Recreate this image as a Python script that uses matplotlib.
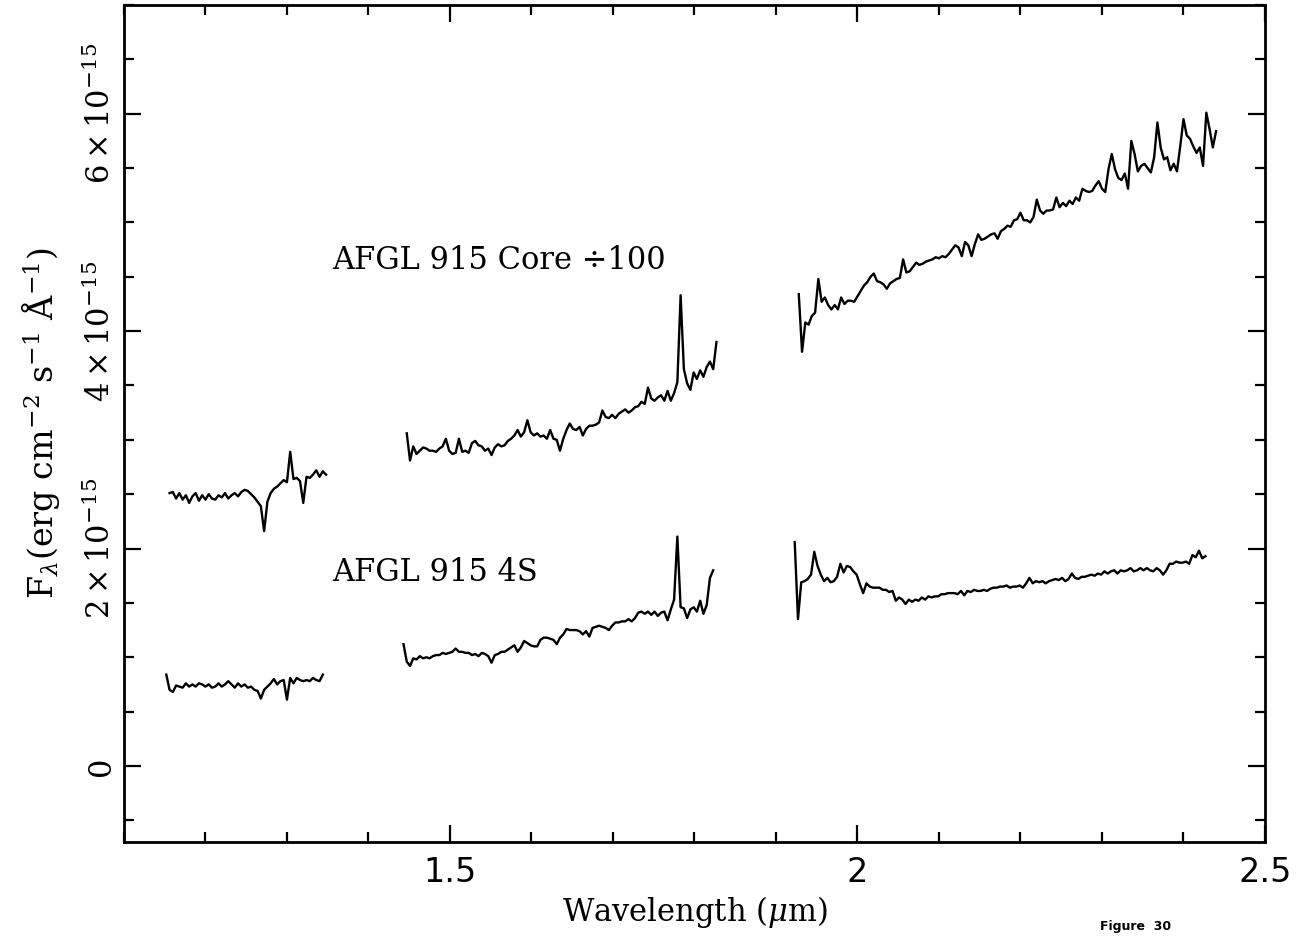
import numpy as np
import matplotlib.pyplot as plt
from matplotlib.ticker import FixedLocator, MultipleLocator, FuncFormatter

plt.rcParams['font.family'] = ['DejaVu Serif']
plt.rcParams['mathtext.fontset'] = 'dejavuserif'

FLUX_UNIT = 1e-15   # flux lists below are in units of 1e-15 erg/cm2/s/A
STEP = 0.004        # wavelength sampling, micron

# AFGL 915 core, already divided by 100 -- three pieces (J, H, K windows)
core_starts = [1.156, 1.447, 1.928]
core_j = [2.51, 2.52, 2.46, 2.51, 2.45, 2.49, 2.42, 2.48, 2.51, 2.44,
          2.49, 2.45, 2.50, 2.46, 2.45, 2.49, 2.47, 2.51, 2.46, 2.49,
          2.51, 2.48, 2.52, 2.54, 2.53, 2.50, 2.47, 2.43, 2.39, 2.16,
          2.43, 2.51, 2.55, 2.57, 2.60, 2.63, 2.61, 2.89, 2.64, 2.65,
          2.62, 2.42, 2.66, 2.65, 2.68, 2.72, 2.66, 2.71, 2.68]
core_h = [3.06, 2.81, 2.94, 2.87, 2.90, 2.93, 2.92, 2.90, 2.90, 2.89,
          2.92, 2.94, 3.01, 2.90, 2.87, 2.88, 3.01, 2.89, 2.90, 2.88,
          2.97, 2.99, 2.95, 2.94, 2.90, 2.92, 2.86, 2.93, 2.96, 2.94,
          2.95, 2.99, 3.01, 3.04, 3.09, 3.03, 3.07, 3.18, 3.07, 3.04,
          3.06, 3.03, 3.04, 3.01, 3.09, 3.01, 3.00, 2.90, 3.01, 3.09,
          3.15, 3.10, 3.09, 3.12, 3.04, 3.10, 3.13, 3.13, 3.14, 3.16,
          3.27, 3.21, 3.20, 3.23, 3.20, 3.24, 3.26, 3.28, 3.25, 3.27,
          3.30, 3.31, 3.35, 3.33, 3.48, 3.38, 3.36, 3.39, 3.41, 3.36,
          3.45, 3.36, 3.43, 3.53, 4.33, 3.65, 3.52, 3.46, 3.62, 3.56,
          3.64, 3.58, 3.67, 3.72, 3.65, 3.90]
core_k = [4.34, 3.81, 4.08, 4.06, 4.14, 4.17, 4.48, 4.27, 4.31, 4.24,
          4.20, 4.24, 4.20, 4.31, 4.25, 4.28, 4.28, 4.27, 4.32, 4.37,
          4.42, 4.45, 4.50, 4.53, 4.46, 4.45, 4.43, 4.39, 4.44, 4.46,
          4.48, 4.49, 4.66, 4.54, 4.55, 4.59, 4.63, 4.61, 4.62, 4.64,
          4.65, 4.66, 4.68, 4.67, 4.69, 4.68, 4.71, 4.75, 4.79, 4.77,
          4.69, 4.82, 4.79, 4.69, 4.80, 4.89, 4.84, 4.85, 4.87, 4.89,
          4.90, 4.85, 4.92, 4.94, 4.97, 4.96, 5.02, 5.03, 5.09, 5.02,
          5.02, 5.00, 5.05, 5.21, 5.11, 5.08, 5.11, 5.11, 5.12, 5.23,
          5.14, 5.18, 5.15, 5.20, 5.17, 5.23, 5.20, 5.31, 5.29, 5.28,
          5.29, 5.34, 5.38, 5.31, 5.28, 5.49, 5.63, 5.49, 5.41, 5.39,
          5.45, 5.31, 5.75, 5.63, 5.47, 5.52, 5.54, 5.50, 5.46, 5.60,
          5.92, 5.69, 5.58, 5.60, 5.48, 5.54, 5.47, 5.70, 5.95, 5.80,
          5.77, 5.70, 5.64, 5.69, 5.52, 6.01, 5.86, 5.69, 5.84]

# AFGL 915 4S
s4_starts = [1.152, 1.443, 1.923]
s4_j = [0.84, 0.70, 0.68, 0.74, 0.73, 0.72, 0.76, 0.73, 0.75, 0.73,
        0.76, 0.75, 0.73, 0.75, 0.72, 0.73, 0.76, 0.73, 0.75, 0.78,
        0.75, 0.72, 0.76, 0.73, 0.75, 0.72, 0.73, 0.70, 0.69, 0.62,
        0.70, 0.73, 0.76, 0.80, 0.75, 0.78, 0.79, 0.61, 0.81, 0.76,
        0.81, 0.79, 0.78, 0.79, 0.78, 0.81, 0.79, 0.78, 0.84]
s4_h = [1.12, 0.96, 0.92, 0.99, 0.98, 1.01, 0.99, 1.00, 0.99, 1.01,
        1.02, 1.02, 1.04, 1.03, 1.04, 1.05, 1.08, 1.05, 1.05, 1.04,
        1.04, 1.02, 1.03, 1.01, 1.04, 1.03, 1.01, 0.95, 1.02, 1.03,
        1.05, 1.05, 1.07, 1.09, 1.11, 1.05, 1.09, 1.15, 1.13, 1.11,
        1.10, 1.10, 1.16, 1.18, 1.18, 1.17, 1.16, 1.12, 1.18, 1.21,
        1.26, 1.25, 1.25, 1.25, 1.24, 1.21, 1.24, 1.19, 1.27, 1.28,
        1.29, 1.28, 1.27, 1.25, 1.29, 1.32, 1.32, 1.33, 1.33, 1.35,
        1.33, 1.36, 1.41, 1.42, 1.40, 1.42, 1.39, 1.42, 1.38, 1.41,
        1.42, 1.34, 1.44, 1.53, 2.11, 1.46, 1.45, 1.36, 1.44, 1.46,
        1.42, 1.52, 1.40, 1.48, 1.73, 1.80]
s4_k = [2.06, 1.35, 1.69, 1.70, 1.72, 1.76, 1.97, 1.84, 1.76, 1.70,
        1.73, 1.69, 1.70, 1.74, 1.86, 1.78, 1.84, 1.83, 1.79, 1.76,
        1.67, 1.59, 1.68, 1.65, 1.64, 1.64, 1.64, 1.62, 1.62, 1.60,
        1.61, 1.52, 1.55, 1.53, 1.49, 1.53, 1.51, 1.53, 1.52, 1.55,
        1.53, 1.56, 1.55, 1.56, 1.56, 1.58, 1.58, 1.59, 1.59, 1.59,
        1.58, 1.61, 1.57, 1.61, 1.60, 1.62, 1.61, 1.61, 1.62, 1.61,
        1.63, 1.64, 1.64, 1.65, 1.65, 1.66, 1.64, 1.65, 1.65, 1.66,
        1.64, 1.68, 1.73, 1.68, 1.70, 1.69, 1.70, 1.68, 1.70, 1.71,
        1.72, 1.71, 1.73, 1.70, 1.72, 1.77, 1.73, 1.72, 1.74, 1.74,
        1.75, 1.76, 1.75, 1.77, 1.76, 1.79, 1.77, 1.79, 1.80, 1.77,
        1.80, 1.79, 1.80, 1.82, 1.79, 1.80, 1.82, 1.80, 1.82, 1.80,
        1.79, 1.82, 1.80, 1.76, 1.80, 1.86, 1.86, 1.88, 1.87, 1.87,
        1.88, 1.86, 1.94, 1.92, 1.98, 1.91, 1.93]

labels = ['AFGL 915 Core \u00f7100', 'AFGL 915 4S']
label_pos = [(1.356, 4.57), (1.356, 1.70)]

x_major = [1.5, 2.0, 2.5]
y_major = [0, 2, 4, 6]


def flux_label(v, pos):
    n = int(round(v / FLUX_UNIT))
    if n == 0:
        return '0'
    return r'$%d\times10^{-15}$' % n


fig = plt.figure(figsize=(13.06, 9.36), dpi=100)
ax = fig.add_axes([0.0949, 0.1004, 0.8737, 0.8942])

for starts, pieces in [(core_starts, [core_j, core_h, core_k]),
                       (s4_starts, [s4_j, s4_h, s4_k])]:
    for start, flux in zip(starts, pieces):
        wl = start + STEP * np.arange(len(flux))
        ax.plot(wl, np.array(flux) * FLUX_UNIT, color='black', lw=1.7)

for text, (x, y) in zip(labels, label_pos):
    ax.text(x, y * FLUX_UNIT, text, fontsize=22, va='baseline')

ax.set_xlim(1.1, 2.5)
ax.set_ylim(-0.7 * FLUX_UNIT, 7.0 * FLUX_UNIT)

ax.xaxis.set_major_locator(FixedLocator(x_major))
ax.xaxis.set_minor_locator(MultipleLocator(0.1))
ax.xaxis.set_major_formatter(FuncFormatter(lambda v, p: '%g' % v))
ax.yaxis.set_major_locator(FixedLocator([v * FLUX_UNIT for v in y_major]))
ax.yaxis.set_minor_locator(MultipleLocator(0.5 * FLUX_UNIT))
ax.yaxis.set_major_formatter(FuncFormatter(flux_label))

ax.tick_params(which='both', direction='in', top=True, right=True, width=1.6)
ax.tick_params(which='major', length=12)
ax.tick_params(which='minor', length=7)
ax.tick_params(axis='x', labelsize=24, labelfontfamily='DejaVu Sans', pad=10)
ax.tick_params(axis='y', labelsize=22, labelrotation=90, pad=5)
for lab in ax.get_yticklabels():
    lab.set_va('center')

for sp in ax.spines.values():
    sp.set_linewidth(2.0)

ax.set_xlabel(r'Wavelength ($\mu$m)', fontsize=22, labelpad=4)
ax.set_ylabel(r'F$_\lambda$(erg cm$^{-2}$ s$^{-1}$ Å$^{-1}$)', fontsize=24, labelpad=16)

fig.text(1100 / 1306, 1 - 930 / 936, 'Figure  30', fontsize=9,
         fontweight='bold', family='DejaVu Sans', va='baseline')

fig.savefig('out.png', dpi=100)
